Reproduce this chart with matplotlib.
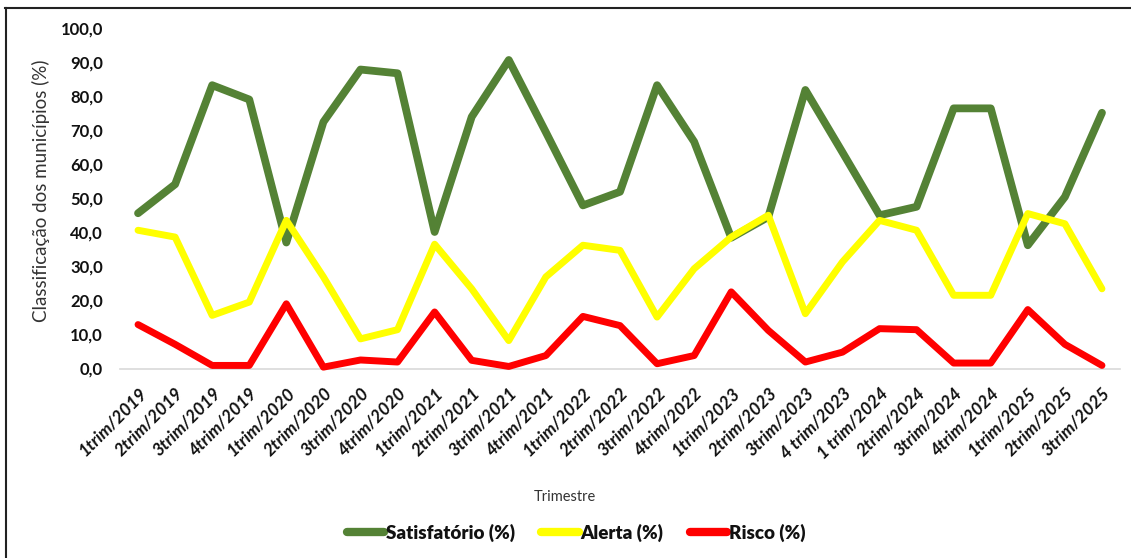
import matplotlib
matplotlib.use("Agg")
import matplotlib.pyplot as plt
from matplotlib.lines import Line2D

plt.rcParams['font.family'] = ['Lato', 'DejaVu Sans']

categories = ["1trim/2019", "2trim/2019", "3trim/2019", "4trim/2019",
              "1trim/2020", "2trim/2020", "3trim/2020", "4trim/2020",
              "1trim/2021", "2trim/2021", "3trim/2021", "4trim/2021",
              "1trim/2022", "2trim/2022", "3trim/2022", "4trim/2022",
              "1trim/2023", "2trim/2023", "3trim/2023", "4 trim/2023",
              "1 trim/2024", "2trim/2024", "3trim/2024", "4trim/2024",
              "1trim/2025", "2trim/2025", "3trim/2025"]

satisfatorio = [45.6, 54.1, 83.2, 79.0, 37.0, 72.4, 87.8, 86.7, 40.1,
                73.9, 90.6, 69.4, 47.9, 51.9, 83.2, 66.6, 38.4, 44.5,
                81.8, 63.5, 45.0, 47.5, 76.4, 76.4, 36.2, 50.4, 75.1]
alerta = [40.6, 38.6, 15.6, 19.5, 43.5, 26.9, 8.7, 11.4, 36.5,
          23.4, 8.2, 26.9, 36.2, 34.7, 15.1, 29.3, 38.6, 45.0,
          16.1, 31.3, 43.5, 40.6, 21.5, 21.5, 45.5, 42.5, 23.4]
risco = [12.9, 7.1, 0.9, 0.9, 19.0, 0.4, 2.5, 1.9, 16.6,
         2.4, 0.6, 3.8, 15.3, 12.6, 1.4, 3.8, 22.5, 11.2,
         1.9, 4.8, 11.7, 11.4, 1.6, 1.6, 17.3, 7.1, 0.9]

series_names = ["Satisfatório (%)", "Alerta (%)", "Risco (%)"]
colors = ["#548235", "#FFFF00", "#FF0000"]
yticks = [0, 10, 20, 30, 40, 50, 60, 70, 80, 90, 100]

W, H = 1131, 558
fig = plt.figure(figsize=(W / 100, H / 100), dpi=100)
fig.patch.set_facecolor("white")

left, right, top, bottom = 119.5, 1120.5, 28, 368.5
ax = fig.add_axes([left / W, 1 - bottom / H, (right - left) / W, (bottom - top) / H])

x = list(range(len(categories)))
widths = [5.6, 5.0, 5.0]
for vals, c, lw, name in zip([satisfatorio, alerta, risco], colors, widths, series_names):
    ax.plot(x, vals, color=c, lw=lw, solid_capstyle="round", solid_joinstyle="round",
            clip_on=False, label=name, zorder=3)

ax.set_xlim(-0.5, len(categories) - 0.5)
ax.set_ylim(0, 100)
for s in ["top", "right", "left"]:
    ax.spines[s].set_visible(False)
ax.spines["bottom"].set_color("#D9D9D9")
ax.spines["bottom"].set_linewidth(1.2)
ax.spines["bottom"].set_zorder(1)

ax.set_yticks(yticks)
ax.set_yticklabels([f"{v:.1f}".replace(".", ",") for v in yticks],
                   fontsize=12, fontweight="bold", color="#111111")
ax.tick_params(axis="y", length=0, pad=12)
ax.set_xticks(x)
ax.set_xticklabels(categories, rotation=45, ha="right", rotation_mode="anchor",
                   fontsize=12.5, fontweight="bold", fontstyle="italic", color="#111111")
ax.tick_params(axis="x", length=0, pad=12)

fig.text(41 / W, 1 - 191 / H, "Classificação dos municípios (%)", rotation=90,
         ha="center", va="center", fontsize=13.5, color="#333333")
fig.text(565 / W, 1 - 497 / H, "Trimestre", ha="center", va="center",
         fontsize=10.5, color="#333333")

handles = [Line2D([0], [0], color=c, lw=6, solid_capstyle="round") for c in colors]
leg = fig.legend(handles, series_names, loc="center", bbox_to_anchor=(576 / W, 1 - 533 / H),
                 ncol=3, frameon=False, handlelength=2.0, handletextpad=0.1,
                 columnspacing=1.4, prop={"family": ["Lato", "DejaVu Sans"],
                                          "weight": "heavy", "size": 13.5})
for t in leg.get_texts():
    t.set_color("#111111")

# outer frame lines
fig.add_artist(Line2D([5 / W, 1], [1 - 8 / H, 1 - 8 / H], color="#222222", lw=1.5,
                      transform=fig.transFigure))
fig.add_artist(Line2D([6 / W, 6 / W], [0, 1 - 8 / H], color="#222222", lw=1.5,
                      transform=fig.transFigure))

fig.savefig("out.png", dpi=100, facecolor="white")
